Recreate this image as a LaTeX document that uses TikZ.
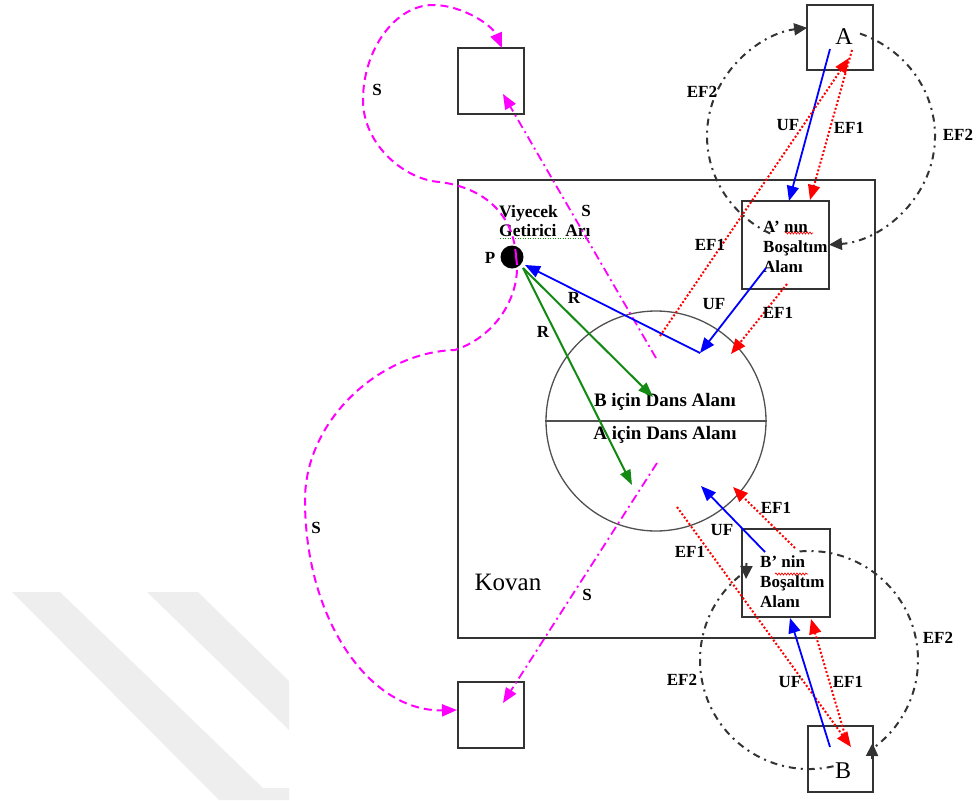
\documentclass[tikz,border=0pt]{standalone}
\usepackage{fontspec}
\setmainfont{Liberation Serif}
\usetikzlibrary{arrows.meta,decorations.pathmorphing}

\definecolor{frame}{HTML}{333333}
\definecolor{ringgray}{HTML}{505050}
\definecolor{wmgray}{HTML}{EEEEEE}
\definecolor{beegreen}{HTML}{138A13}
\definecolor{scoutpink}{RGB}{255,0,255}
\definecolor{ufblue}{RGB}{0,0,255}
\definecolor{efred}{RGB}{255,0,0}

\tikzset{
  lbl/.style={font=\fontsize{17}{20}\selectfont\bfseries, inner sep=0pt},
  boxtxt/.style={font=\fontsize{17}{20}\selectfont\bfseries, align=left, inner sep=0pt, anchor=west},
  sq/.style={draw=frame, line width=1.6pt, inner sep=0pt},
  bigtip/.style={-{Triangle[length=15pt,width=12pt]}},
  ufline/.style={ufblue, line width=1.8pt, bigtip},
  efline/.style={efred, line width=2pt, dash pattern=on 2pt off 2pt, bigtip},
  rgreen/.style={beegreen, line width=2pt, -{Triangle[length=15pt,width=11pt]}},
  rblue/.style={ufblue, line width=1.8pt, bigtip},
  sdash/.style={scoutpink, line width=2pt, dash pattern=on 8pt off 5pt, bigtip},
  sdot/.style={scoutpink, line width=1.8pt, dash pattern=on 9pt off 4pt on 2pt off 4pt, bigtip},
  ef2line/.style={frame, line width=2pt, dash pattern=on 7pt off 5pt on 2pt off 5pt},
  ef2tip/.style={-{Triangle[length=13pt,width=12pt]}}
}

\begin{document}
\begin{tikzpicture}[x=1pt,y=-1pt]
\useasboundingbox (0,0) rectangle (976,800);

% faint diagonal background stripes, lower left
\begin{scope}
  \clip (0,560) rectangle (289,800);
  \fill[wmgray] (12,592) -- (60,592) -- (263,788) -- (289,788) -- (289,800) -- (219,800) -- cycle;
  \fill[wmgray] (147,592) -- (198,592) -- (289,681) -- (289,730) -- cycle;
\end{scope}

% hive, boxes and dance floor
\node[sq, minimum width=417pt, minimum height=458pt] (hive) at (666.5,409) {};
\node[sq, minimum width=66pt, minimum height=66pt] (tl) at (491,81) {};
\node[sq, minimum width=66pt, minimum height=66pt] (bl) at (491,715) {};
\node[sq, minimum width=66pt, minimum height=65pt] (boxA) at (840,37.5) {};
\node[sq, minimum width=87pt, minimum height=88pt] (boxAp) at (785.5,245) {};
\node[sq, minimum width=88pt, minimum height=88pt] (boxBp) at (786,573) {};
\node[sq, minimum width=65pt, minimum height=66pt] (boxB) at (840.5,759) {};

\node[circle, draw=ringgray, line width=1.3pt, minimum size=220pt, inner sep=0pt] (dance) at (656,421) {};
\draw[ringgray, line width=1.3pt] (dance.west) -- (dance.east);

\node[font=\fontsize{19}{22}\selectfont\bfseries, inner sep=0pt] (danceB) at (665,402) {B için Dans Alanı};
\node[font=\fontsize{19}{22}\selectfont\bfseries, inner sep=0pt] (danceA) at (665,435) {A için Dans Alanı};

\node[font=\fontsize{25}{30}\selectfont, inner sep=0pt] (kovan) at (508,582) {Kovan};
\node[font=\fontsize{24}{28}\selectfont, inner sep=0pt] (letA) at (844,37) {A};
\node[font=\fontsize{24}{28}\selectfont, inner sep=0pt] (letB) at (843,771) {B};

\node[boxtxt] (txtAp) at (763,247) {A’ nın\\Boşaltım\\Alanı};
\node[boxtxt] (txtBp) at (760,582) {B’ nin\\Boşaltım\\Alanı};
\node[font=\fontsize{17.5}{19}\selectfont\bfseries, align=left, inner sep=0pt, anchor=west] (forager) at (499,221) {Viyecek\\Getirici\ \ Arı};

% spelling marks under words
\draw[efred, line width=0.7pt, decorate, decoration={snake, amplitude=1pt, segment length=3pt}] (785,233) -- (813,233);
\draw[efred, line width=0.7pt, decorate, decoration={snake, amplitude=1pt, segment length=3pt}] (775,574) -- (808,574);
\draw[beegreen, line width=1pt, dash pattern=on 1pt off 1.5pt] (500,238) -- (590,238);

% forager bee
\node[circle, fill=black, minimum size=23pt, inner sep=0pt] (P) at (512,257) {};

% connector end points
\coordinate (ufA1) at (830,49);   \coordinate (ufA2) at (789,201);
\coordinate (efA1) at (852,50);   \coordinate (efA2) at (810,200);
\coordinate (efL1) at (660,336);  \coordinate (efL2) at (849,58);
\coordinate (ufAp1) at (766,268); \coordinate (vtx) at (700,353);
\coordinate (efAp1) at (787,284); \coordinate (efAp2) at (731,354);
\coordinate (Rtip) at (525,265);
\coordinate (gs) at (523,268);
\coordinate (g1) at (653,397);    \coordinate (g2) at (632,485);
\coordinate (sU1) at (656,358);   \coordinate (sU2) at (503,94);
\coordinate (sL1) at (657,463);   \coordinate (sL2) at (503,703);
\coordinate (pm) at (516,257);
\coordinate (u1) at (440,182);    \coordinate (u2) at (363,100);
\coordinate (u3) at (433,5);      \coordinate (tltop) at (502,48);
\coordinate (l1) at (455,350);    \coordinate (l2) at (305,500);
\coordinate (blwest) at (457,710);
\coordinate (ufBp1) at (765,552); \coordinate (ufBp2) at (701,486);
\coordinate (efBp1) at (795,548); \coordinate (efBp2) at (733,487);
\coordinate (efL3) at (677,507);  \coordinate (efL4) at (851,747);
\coordinate (ufB1) at (830,747);  \coordinate (ufB2) at (790,618);
\coordinate (efB1) at (847,742);  \coordinate (efB2) at (811,619);

% EF2 loops around source A
\coordinate (ef2a) at ({821+114*cos(116.5)},{136+109*sin(116.5)});
\coordinate (ef2b) at ({821+114*cos(290)},{136+109*sin(290)});
\draw[ef2line, ef2tip] (ef2a) arc[start angle=116.5, end angle=263, x radius=114, y radius=109];
\draw[ef2line, ef2tip] (ef2b) arc[start angle=290, end angle=446, x radius=114, y radius=109];

% EF2 loops around source B, with upright heads at their ends
\coordinate (ef2c) at ({809+109*cos(77)},{660+109*sin(77)});
\coordinate (ef2d) at ({809+109*cos(265)},{660+109*sin(265)});
\draw[ef2line] (ef2c) arc[start angle=77, end angle=235, radius=109];
\draw[ef2line] (ef2d) arc[start angle=265, end angle=414.6, radius=109];
\coordinate (hc1) at (746.5,563);  \coordinate (hc2) at (746,579);
\coordinate (hd1) at (872,759);    \coordinate (hd2) at (872.5,743);
\draw[frame, line width=2pt, ef2tip] (hc1) -- (hc2);
\draw[frame, line width=2pt, ef2tip] (hd1) -- (hd2);

% scout flights
\draw[sdash] (pm) .. controls (514,215) and (485,188) .. (u1)
  .. controls (405,180) and (363,145) .. (u2)
  .. controls (363,50) and (395,5) .. (u3)
  .. controls (462,5) and (492,25) .. (tltop);
\draw[sdash] (pm) .. controls (522,290) and (500,335) .. (l1)
  .. controls (380,352) and (305,420) .. (l2)
  .. controls (305,620) and (370,712) .. (blwest);
\draw[sdot] (sU1) -- (sU2);
\draw[sdot] (sL1) -- (sL2);

% recruitment
\draw[rblue] (vtx) -- (Rtip);
\draw[rgreen] (gs) -- (g1);
\draw[rgreen] (gs) -- (g2);

% source A flights
\draw[ufline] (ufA1) -- (ufA2);
\draw[efline] (efA1) -- (efA2);
\draw[efline] (efL1) -- (efL2);
\draw[ufline] (ufAp1) -- (vtx);
\draw[efline] (efAp1) -- (efAp2);

% source B flights
\draw[ufline] (ufBp1) -- (ufBp2);
\draw[efline] (efBp1) -- (efBp2);
\draw[efline] (efL3) -- (efL4);
\draw[ufline] (ufB1) -- (ufB2);
\draw[efline] (efB1) -- (efB2);

% labels
\node[lbl] (lS1) at (377,90) {S};
\node[lbl] (lS2) at (316,528) {S};
\node[lbl] (lS3) at (586,211) {S};
\node[lbl] (lS4) at (587,595) {S};
\node[lbl] (lP) at (490,258) {P};
\node[lbl] (lR1) at (574,298) {R};
\node[lbl] (lR2) at (543,332) {R};
\node[lbl] (lEF2a) at (702,92) {EF2};
\node[lbl] (lEF2b) at (958,135) {EF2};
\node[lbl] (lEF2c) at (682,680) {EF2};
\node[lbl] (lEF2d) at (938,638) {EF2};
\node[lbl] (lUFa) at (788,125) {UF};
\node[lbl] (lUFb) at (714,304) {UF};
\node[lbl] (lUFc) at (722,530) {UF};
\node[lbl] (lUFd) at (790,682) {UF};
\node[lbl] (lEF1a) at (849,128) {EF1};
\node[lbl] (lEF1b) at (710,245) {EF1};
\node[lbl] (lEF1c) at (778,313) {EF1};
\node[lbl] (lEF1d) at (776,508) {EF1};
\node[lbl] (lEF1e) at (690,552) {EF1};
\node[lbl] (lEF1f) at (848,682) {EF1};
\end{tikzpicture}
\end{document}
